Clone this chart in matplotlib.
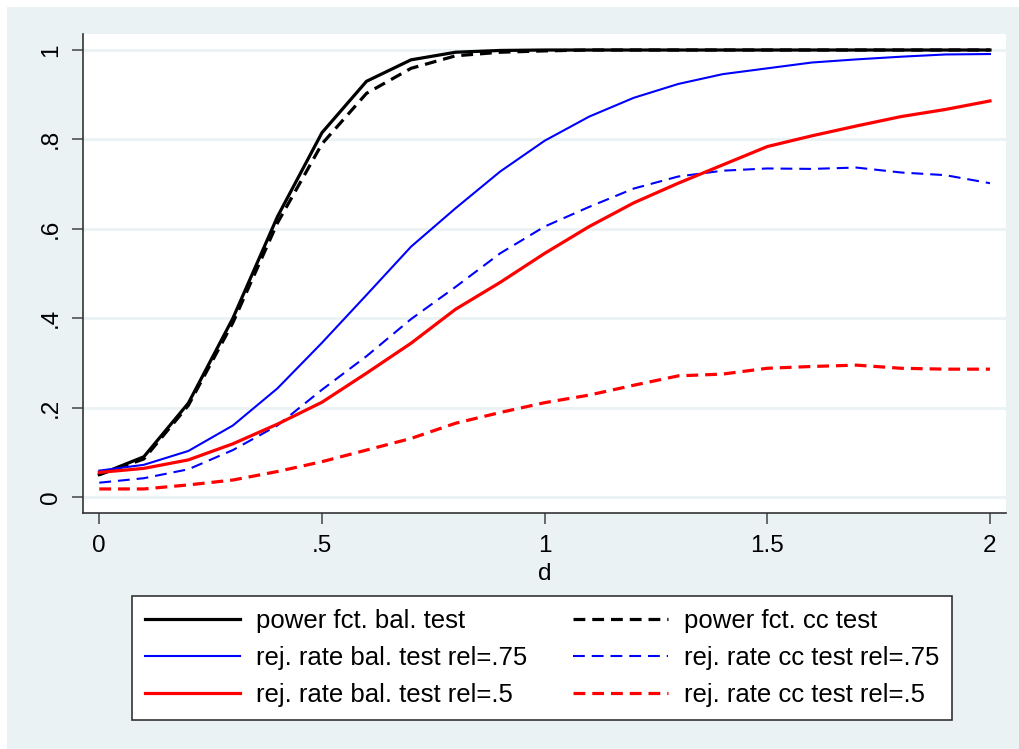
import matplotlib
matplotlib.use("Agg")
import matplotlib.pyplot as plt
from matplotlib.patches import Rectangle

# data
d = [0, .1, .2, .3, .4, .5, .6, .7, .8, .9, 1.0,
     1.1, 1.2, 1.3, 1.4, 1.5, 1.6, 1.7, 1.8, 1.9, 2.0]

power_bal = [.050, .090, .210, .400, .627, .815, .930, .978, .995, .999, 1.0,
             1.0, 1.0, 1.0, 1.0, 1.0, 1.0, 1.0, 1.0, 1.0, 1.0]
power_cc = [.050, .085, .205, .390, .613, .790, .903, .959, .987, .995, .998,
            1.0, 1.0, 1.0, 1.0, 1.0, 1.0, 1.0, 1.0, 1.0, 1.0]
rej_bal_75 = [.059, .072, .103, .160, .243, .345, .452, .560, .646, .728, .797,
              .851, .893, .924, .946, .959, .972, .979, .985, .990, .991]
rej_cc_75 = [.032, .042, .062, .105, .160, .240, .315, .398, .470, .545, .605,
             .649, .690, .717, .730, .735, .734, .737, .726, .720, .702]
rej_bal_5 = [.055, .064, .083, .119, .163, .212, .277, .344, .420, .480, .545,
             .605, .658, .702, .743, .784, .808, .830, .851, .867, .886]
rej_cc_5 = [.018, .018, .027, .038, .057, .079, .105, .131, .165, .189, .211,
            .228, .250, .271, .275, .288, .292, .295, .288, .286, .286]

labels = ["power fct. bal. test", "power fct. cc test",
          "rej. rate bal. test rel=.75", "rej. rate cc test rel=.75",
          "rej. rate bal. test rel=.5", "rej. rate cc test rel=.5"]

xticks = [0, .5, 1, 1.5, 2]
xticklabels = ["0", ".5", "1", "1.5", "2"]
yticks = [0, .2, .4, .6, .8, 1]
yticklabels = ["0", ".2", ".4", ".6", ".8", "1"]

BG = "#EAF2F3"
plt.rcParams['font.family'] = ['Liberation Sans', 'DejaVu Sans']
plt.rcParams['lines.scale_dashes'] = False

fig = plt.figure(figsize=(10.2, 7.49), dpi=100, facecolor="white")
# Stata style graph region, with a thin white strip at top and left
fig.patches.append(Rectangle((7 / 1020, 0), 1 - 7 / 1020, 1 - 7 / 749,
                             transform=fig.transFigure, facecolor=BG,
                             edgecolor="none", zorder=-10))

ax = fig.add_axes([83 / 1020, 1 - 513 / 749, (1006 - 83) / 1020, (513 - 34) / 749])
ax.set_facecolor("white")

dash = (8.5, 5)
ax.plot(d, power_bal, color="black", lw=2.3, label=labels[0])
ax.plot(d, power_cc, color="black", lw=2.3, dashes=dash, label=labels[1])
ax.plot(d, rej_bal_75, color="blue", lw=1.5, label=labels[2])
ax.plot(d, rej_cc_75, color="blue", lw=1.5, dashes=dash, label=labels[3])
ax.plot(d, rej_bal_5, color="red", lw=2.3, label=labels[4])
ax.plot(d, rej_cc_5, color="red", lw=2.3, dashes=dash, label=labels[5])

ax.set_xlim(-0.0366, 2.036)
ax.set_ylim(-0.0358, 1.0358)
ax.set_xticks(xticks)
ax.set_xticklabels(xticklabels)
ax.set_yticks(yticks)
ax.set_yticklabels(yticklabels, rotation=90, va="center")
ax.tick_params(axis="both", labelsize=17.5, length=8, width=1.1, color="#444444",
               direction="out")
ax.tick_params(axis="x", pad=8)
ax.tick_params(axis="y", pad=7)
ax.set_xlabel("d", fontsize=17.5, labelpad=4)

ax.yaxis.grid(True, color=BG, lw=2)
ax.set_axisbelow(True)
for s in ["top", "right"]:
    ax.spines[s].set_visible(False)
for s in ["left", "bottom"]:
    ax.spines[s].set_color("#333333")
    ax.spines[s].set_linewidth(1.2)

# legend ordered row-wise: bal. tests left, cc tests right
h, l = ax.get_legend_handles_labels()
order = [0, 2, 4, 1, 3, 5]
leg = fig.legend([h[i] for i in order], [l[i] for i in order],
                 loc="center", bbox_to_anchor=(542 / 1020, 1 - 658 / 749),
                 ncol=2, fontsize=18.5, frameon=True, fancybox=False,
                 handlelength=3.7, handletextpad=0.6, columnspacing=1.8,
                 labelspacing=0.5, borderpad=0.5, borderaxespad=0, framealpha=1)
leg.get_frame().set_facecolor("white")
leg.get_frame().set_edgecolor("#333333")
leg.get_frame().set_linewidth(1.2)

plt.savefig("out.png", dpi=100, facecolor=fig.get_facecolor())
